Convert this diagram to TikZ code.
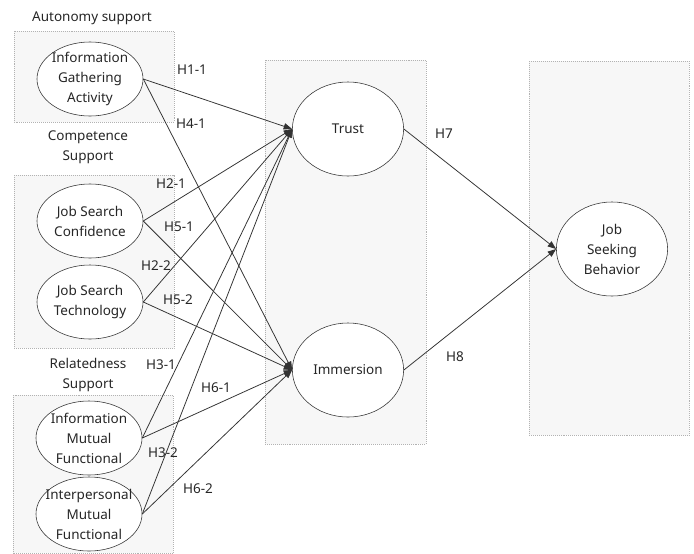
\documentclass[tikz,border=0pt]{standalone}
\usepackage{fontspec}
\setmainfont{Noto Sans}
\usetikzlibrary{shapes.geometric, arrows.meta, positioning}

\begin{document}
\begin{tikzpicture}[
    x=0.025cm, y=-0.025cm,
    every node/.style={font=\fontsize{9.6}{14.2}\selectfont, text=black!85},
    group/.style={draw=gray!60, densely dotted, fill=gray!6},
    construct/.style={ellipse, draw=black!80, fill=white, minimum width=2.65cm, minimum height=1.85cm},
    outcome/.style={ellipse, draw=black!80, fill=white, minimum width=2.78cm, minimum height=2.35cm},
    title/.style={align=center, inner sep=1pt},
    hyp/.style={inner sep=1pt},
    arrow/.style={-{Triangle[length=6pt, width=4.5pt]}, draw=black!80, line width=0.55pt},
]
\useasboundingbox (0,0) rectangle (694,553);

% Group boxes
\draw [group] (14,31) rectangle (174,122);
\draw [group] (14,175) rectangle (174,348);
\draw [group] (13,395) rectangle (173,553);
\draw [group] (265,60) rectangle (426,444);
\draw [group] (529,61) rectangle (689,435);

% Group titles
\node [title] (autonomy) at (92,18) {Autonomy support};
\node [title] (competence) at (88,147) {Competence\\Support};
\node [title] (relatedness) at (88,375) {Relatedness\\Support};

% Nodes
\node [construct, label={[align=center]center:Information\\Gathering\\Activity}] (iga) at (90,79) {};
\node [construct, label={[align=center]center:Job Search\\Confidence}] (jsc) at (90,221) {};
\node [construct, label={[align=center]center:Job Search\\Technology}] (jst) at (90,302) {};
\node [construct, label={[align=center]center:Information\\Mutual\\Functional}] (imf) at (89,438) {};
\node [construct, label={[align=center]center:Interpersonal\\Mutual\\Functional}] (ipmf) at (89,514) {};
\node [outcome, label={[align=center]center:Trust}] (trust) at (348,129) {};
\node [outcome, label={[align=center]center:Immersion}] (immersion) at (348,370) {};
\node [outcome, label={[align=center]center:Job\\Seeking\\Behavior}] (jsb) at (612,249) {};

% Arcs/Paths
\draw [arrow] (iga.east) -- (trust.west);
\draw [arrow] (iga.east) -- (immersion.west);
\draw [arrow] (jsc.east) -- (trust.west);
\draw [arrow] (jsc.east) -- (immersion.west);
\draw [arrow] (jst.east) -- (trust.west);
\draw [arrow] (jst.east) -- (immersion.west);
\draw [arrow] (imf.east) -- (trust.west);
\draw [arrow] (imf.east) -- (immersion.west);
\draw [arrow] (ipmf.east) -- (trust.west);
\draw [arrow] (ipmf.east) -- (immersion.west);
\draw [arrow] (trust.east) -- (jsb.west);
\draw [arrow] (immersion.east) -- (jsb.west);

% Hypothesis labels
\node [hyp] (h11) at (192,70) {H1-1};
\node [hyp] (h41) at (191,124) {H4-1};
\node [hyp] (h21) at (171,184) {H2-1};
\node [hyp] (h51) at (179,227) {H5-1};
\node [hyp] (h22) at (156,266) {H2-2};
\node [hyp] (h52) at (178,300) {H5-2};
\node [hyp] (h31) at (161,365) {H3-1};
\node [hyp] (h61) at (216,388) {H6-1};
\node [hyp] (h32) at (163,453) {H3-2};
\node [hyp] (h62) at (198,489) {H6-2};
\node [hyp] (h7) at (444,134) {H7};
\node [hyp] (h8) at (455,357) {H8};

\end{tikzpicture}
\end{document}
